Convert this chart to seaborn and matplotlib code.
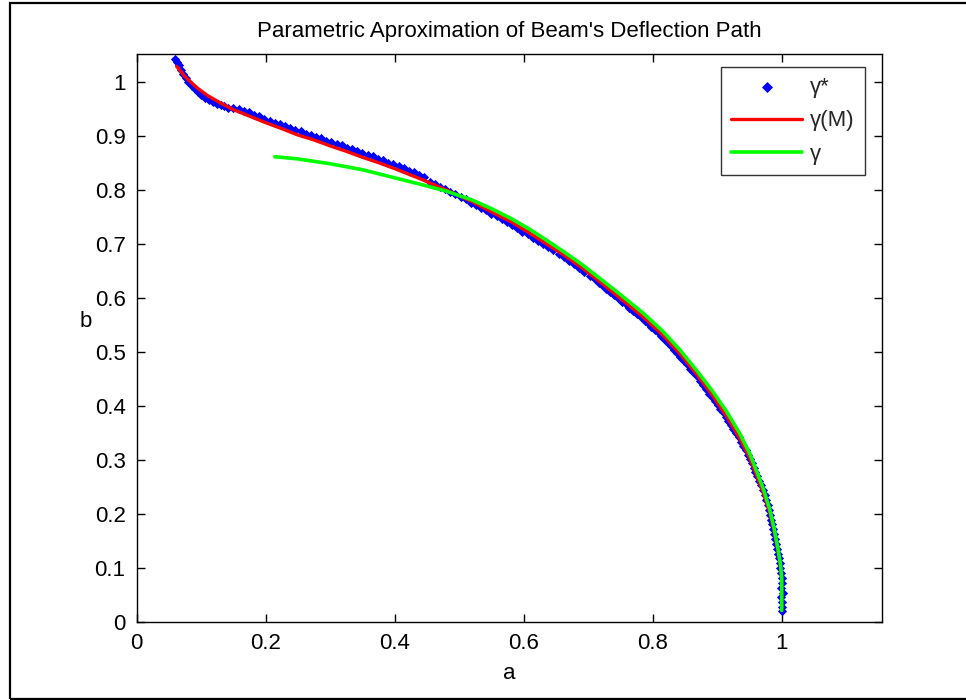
import matplotlib
matplotlib.use("Agg")
import matplotlib.pyplot as plt
import seaborn as sns
import pandas as pd
from matplotlib.patches import Rectangle

# ---- data ----
blue_x = [0.060, 0.063, 0.066, 0.068, 0.072, 0.076, 0.080, 0.085, 0.090, 0.095,
          0.100, 0.106, 0.112, 0.118, 0.124, 0.130, 0.136, 0.142,
          0.150, 0.158, 0.166, 0.174, 0.182, 0.190, 0.198, 0.206, 0.214, 0.222,
          0.230, 0.238, 0.246, 0.254, 0.262, 0.270, 0.278, 0.286, 0.294, 0.302,
          0.310, 0.318, 0.326, 0.334, 0.342, 0.350, 0.358, 0.366, 0.374, 0.382,
          0.390, 0.398, 0.406, 0.414, 0.422, 0.430, 0.438, 0.446,
          0.454, 0.462, 0.470, 0.478, 0.486, 0.494, 0.502, 0.510, 0.518, 0.526,
          0.534, 0.542, 0.550, 0.558, 0.566, 0.574, 0.582, 0.590, 0.598, 0.606,
          0.614, 0.622, 0.630, 0.638, 0.646, 0.654, 0.662, 0.670, 0.678, 0.686,
          0.694, 0.702,
          0.710, 0.716, 0.722, 0.728, 0.734, 0.740, 0.746, 0.752, 0.758, 0.764,
          0.770, 0.776, 0.782,
          0.788, 0.793, 0.798, 0.803, 0.808, 0.813, 0.818, 0.823, 0.828, 0.833,
          0.838, 0.843,
          0.848, 0.853, 0.858, 0.863, 0.868, 0.873, 0.878, 0.883, 0.888, 0.893,
          0.897, 0.901, 0.905, 0.909, 0.913, 0.917, 0.921, 0.925, 0.929, 0.933,
          0.937, 0.940, 0.944, 0.947, 0.951, 0.954, 0.957, 0.959, 0.962,
          0.965, 0.968, 0.971, 0.974, 0.976, 0.978, 0.980,
          0.982, 0.984, 0.985, 0.987, 0.988, 0.990, 0.991, 0.993,
          0.995, 0.996, 0.997, 0.998, 0.999, 1.000,
          1.001, 0.999, 1.002, 0.999, 1.001, 1.000, 1.000]
blue_y = [1.042, 1.036, 1.030, 1.022, 1.014, 1.006, 0.999, 0.992, 0.986, 0.980,
          0.975, 0.970, 0.966, 0.962, 0.959, 0.956, 0.954, 0.952,
          0.951, 0.949, 0.946, 0.943, 0.938, 0.936, 0.931, 0.928, 0.924, 0.921,
          0.917, 0.914, 0.910, 0.908, 0.903, 0.901, 0.897, 0.895, 0.891, 0.889,
          0.884, 0.882, 0.878, 0.875, 0.871, 0.868, 0.864, 0.862, 0.857, 0.855,
          0.850, 0.847, 0.843, 0.840, 0.835, 0.832, 0.828, 0.824,
          0.815, 0.811, 0.805, 0.801, 0.796, 0.792, 0.786, 0.782, 0.776, 0.772,
          0.766, 0.762, 0.755, 0.751, 0.745, 0.740, 0.734, 0.729, 0.722, 0.718,
          0.711, 0.706, 0.699, 0.694, 0.688, 0.681, 0.675, 0.668, 0.662, 0.655,
          0.648, 0.641,
          0.634, 0.628, 0.623, 0.617, 0.611, 0.605, 0.599, 0.593, 0.588, 0.582,
          0.576, 0.570, 0.564,
          0.558, 0.553, 0.547, 0.541, 0.536, 0.529, 0.524, 0.517, 0.511, 0.504,
          0.498, 0.491,
          0.484, 0.477, 0.469, 0.462, 0.455, 0.447, 0.439, 0.431, 0.423, 0.415,
          0.409, 0.402, 0.395, 0.388, 0.380, 0.373, 0.365, 0.358, 0.350, 0.343,
          0.334, 0.326, 0.318, 0.310, 0.302, 0.294, 0.286, 0.278, 0.270,
          0.262, 0.253, 0.244, 0.235, 0.226, 0.217, 0.208,
          0.199, 0.190, 0.181, 0.172, 0.163, 0.154, 0.145, 0.136,
          0.127, 0.118, 0.109, 0.100, 0.091, 0.082,
          0.073, 0.064, 0.055, 0.046, 0.037, 0.028, 0.021]

red_x = [0.062, 0.075, 0.093, 0.110, 0.129, 0.150, 0.175, 0.200, 0.225, 0.248,
         0.275, 0.300, 0.325, 0.350, 0.375, 0.400, 0.440, 0.481, 0.520, 0.550,
         0.580, 0.609, 0.635, 0.660, 0.690, 0.718, 0.750, 0.785, 0.815, 0.842,
         0.868, 0.893, 0.915, 0.935, 0.950, 0.961, 0.972, 0.981, 0.988, 0.994,
         0.998, 1.000, 1.000]
red_y = [1.028, 1.009, 0.989, 0.974, 0.961, 0.948, 0.936, 0.924, 0.913, 0.902,
         0.892, 0.881, 0.871, 0.860, 0.850, 0.839, 0.820, 0.799, 0.778, 0.759,
         0.741, 0.720, 0.700, 0.681, 0.656, 0.630, 0.599, 0.565, 0.532, 0.497,
         0.459, 0.419, 0.380, 0.340, 0.305, 0.272, 0.238, 0.205, 0.170, 0.133,
         0.105, 0.080, 0.025]

green_x = [0.214, 0.250, 0.300, 0.350, 0.400, 0.440, 0.481, 0.520, 0.550, 0.580,
           0.609, 0.635, 0.660, 0.690, 0.718, 0.750, 0.785, 0.815, 0.842, 0.868,
           0.893, 0.915, 0.935, 0.950, 0.961, 0.972, 0.981, 0.988, 0.994, 0.998,
           1.000, 1.000]
green_y = [0.861, 0.857, 0.848, 0.837, 0.822, 0.810, 0.797, 0.781, 0.765, 0.747,
           0.727, 0.707, 0.687, 0.662, 0.636, 0.606, 0.572, 0.539, 0.504, 0.466,
           0.427, 0.389, 0.349, 0.313, 0.280, 0.245, 0.211, 0.175, 0.137, 0.108,
           0.082, 0.022]

labels = ["\u03b3*", "\u03b3(M)", "\u03b3"]
x_ticks = [0, 0.2, 0.4, 0.6, 0.8, 1]
y_ticks = [0, 0.1, 0.2, 0.3, 0.4, 0.5, 0.6, 0.7, 0.8, 0.9, 1]
x_tick_labels = ["0", "0.2", "0.4", "0.6", "0.8", "1"]
y_tick_labels = ["0", "0.1", "0.2", "0.3", "0.4", "0.5", "0.6", "0.7", "0.8", "0.9", "1"]
title = "Parametric Aproximation of Beam's Deflection Path"

# ---- figure ----
sns.set_theme(style="ticks")
plt.rcParams["font.family"] = ["Liberation Sans", "DejaVu Sans"]
FS = 16

fig = plt.figure(figsize=(9.66, 7.0), dpi=100)
fig.patch.set_facecolor("white")
fig.patches.append(Rectangle((10 / 966, 1.5 / 700), 1.2, 696 / 700,
                             transform=fig.transFigure, fill=False,
                             edgecolor="black", linewidth=1.6, zorder=-1))

ax = fig.add_axes([136.7 / 966, 1 - 622.3 / 700, 745 / 966, 568.3 / 700])

df_b = pd.DataFrame({"a": blue_x, "b": blue_y})
df_r = pd.DataFrame({"a": red_x, "b": red_y})
df_g = pd.DataFrame({"a": green_x, "b": green_y})

sns.scatterplot(data=df_b, x="a", y="b", ax=ax, marker="D", s=22,
                color="#0000ff", linewidth=0, label=labels[0], zorder=2)
sns.lineplot(data=df_r, x="a", y="b", ax=ax, sort=False, color="#ff0000",
             linewidth=2.4, label=labels[1], zorder=3, estimator=None)
sns.lineplot(data=df_g, x="a", y="b", ax=ax, sort=False, color="#00ff00",
             linewidth=2.6, label=labels[2], zorder=4, estimator=None)

ax.set_xlim(0, 1.155)
ax.set_ylim(0, 1.051)
ax.set_xticks(x_ticks)
ax.set_xticklabels(x_tick_labels)
ax.set_yticks(y_ticks)
ax.set_yticklabels(y_tick_labels)
ax.tick_params(direction="in", length=6, width=1, colors="black",
               labelsize=FS, top=True, right=True, pad=8)
for sp in ax.spines.values():
    sp.set_visible(True)
    sp.set_color("black")
    sp.set_linewidth(1.0)

ax.set_title(title, fontsize=FS, pad=12, color="black")
ax.set_xlabel("a", fontsize=FS, labelpad=6, color="black")
ax.set_ylabel("b", fontsize=FS, rotation=0, color="black")
ax.yaxis.set_label_coords(-0.068, 0.51)

leg = ax.legend(loc="upper right", bbox_to_anchor=(0.977, 0.977),
                borderaxespad=0, frameon=True, fancybox=False, fontsize=FS,
                handlelength=3.2, labelspacing=0.55, borderpad=0.45,
                handletextpad=0.35, markerscale=1.2)
leg.get_frame().set_edgecolor("black")
leg.get_frame().set_linewidth(1.0)

fig.savefig("out.png", dpi=100, facecolor="white")
